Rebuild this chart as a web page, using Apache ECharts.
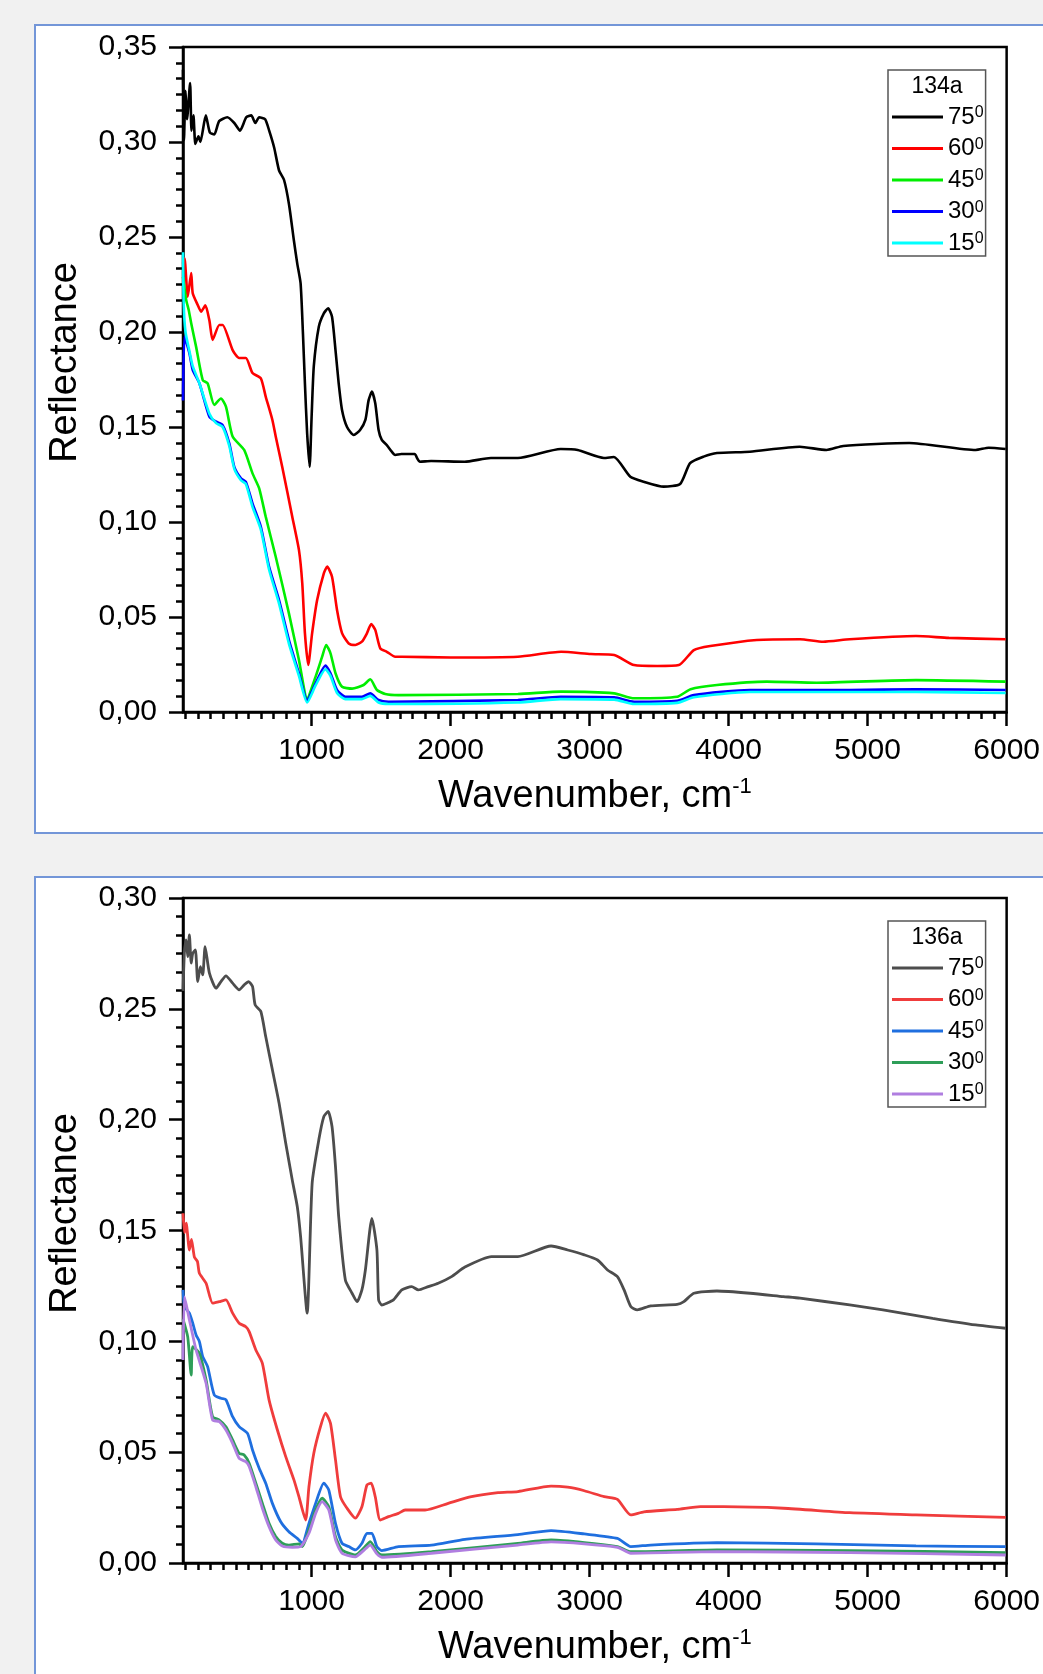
<!DOCTYPE html>
<html>
<head>
<meta charset="utf-8">
<script src="https://cdn.jsdelivr.net/npm/echarts@6/dist/echarts.min.js"></script>
<style>
  html, body { margin:0; padding:0; width:1043px; height:1674px; overflow:hidden; background:#f1f1f1; }
  .panel { position:absolute; left:34px; background:#fff; border:2px solid #7396d8; box-sizing:border-box; }
  #chart { position:absolute; left:0; top:0; width:1043px; height:1674px; }
</style>
</head>
<body>
<div class="panel" style="top:24px; width:1100px; height:810px;"></div>
<div class="panel" style="top:876px; width:1100px; height:900px;"></div>
<div id="chart"></div>
<script>
// ---- tick labels ----
const xTickValues = [1000, 2000, 3000, 4000, 5000, 6000];
const yTicksTop = [0, 0.05, 0.10, 0.15, 0.20, 0.25, 0.30, 0.35];
const yTicksBottom = [0, 0.05, 0.10, 0.15, 0.20, 0.25, 0.30];
const angles = ['75', '60', '45', '30', '15'];

// ---- sample 134a : [wavenumber, reflectance] ----
const s134a_75 = [[75,0.338],[82,0.301],[93,0.327],[104,0.312],[126,0.331],[136,0.306],[150,0.314],[164,0.299],[186,0.303],[200,0.300],[239,0.314],[268,0.305],[300,0.304],[335,0.311],[394,0.313],[444,0.310],[485,0.306],[530,0.313],[566,0.314],[595,0.310],[623,0.313],[666,0.312],[695,0.306],[731,0.297],[766,0.285],[802,0.280],[838,0.267],[873,0.248],[897,0.236],[921,0.2256],[938,0.199],[952,0.173],[968,0.1467],[986,0.129],[1000,0.155],[1016,0.182],[1052,0.2028],[1088,0.2098],[1119,0.2125],[1147,0.208],[1172,0.1905],[1195,0.173],[1219,0.159],[1255,0.150],[1303,0.1458],[1349,0.1484],[1387,0.1537],[1410,0.164],[1434,0.1686],[1458,0.1625],[1482,0.1484],[1505,0.1432],[1541,0.1405],[1577,0.137],[1601,0.1353],[1646,0.1358],[1742,0.1358],[1760,0.1335],[1778,0.1317],[1860,0.1321],[2101,0.1317],[2290,0.1337],[2484,0.1337],[2792,0.1384],[2914,0.1379],[3103,0.1337],[3175,0.1342],[3293,0.1238],[3389,0.1212],[3533,0.1186],[3651,0.120],[3723,0.131],[3820,0.1344],[3916,0.1363],[4153,0.137],[4511,0.1396],[4704,0.1379],[4824,0.140],[5299,0.1416],[5778,0.1379],[5871,0.1391],[5993,0.1384]];
const s134a_60 = [[75,0.236],[86,0.2388],[109,0.2186],[134,0.231],[145,0.2204],[181,0.2142],[205,0.2107],[236,0.214],[265,0.206],[288,0.1958],[336,0.2037],[360,0.2037],[432,0.1905],[479,0.1863],[527,0.1863],[575,0.1784],[635,0.1756],[670,0.166],[718,0.1537],[742,0.145],[789,0.129],[861,0.1028],[909,0.0853],[933,0.0677],[952,0.0415],[976,0.0247],[1004,0.0415],[1040,0.0589],[1088,0.073],[1112,0.0765],[1147,0.0712],[1183,0.0537],[1219,0.0415],[1267,0.0361],[1315,0.0353],[1362,0.037],[1398,0.0414],[1429,0.0463],[1458,0.0432],[1494,0.0335],[1541,0.0317],[1601,0.0291],[1649,0.0291],[2000,0.0287],[2484,0.0291],[2795,0.0317],[3009,0.0305],[3177,0.0300],[3320,0.0247],[3487,0.0242],[3642,0.0247],[3750,0.0326],[3868,0.0347],[4203,0.0379],[4513,0.0383],[4680,0.037],[4871,0.0383],[5348,0.040],[5584,0.039],[5993,0.0383]];
const s134a_45 = [[75,0.229],[98,0.2168],[116,0.2116],[134,0.2046],[169,0.1923],[217,0.1747],[252,0.173],[300,0.1616],[348,0.165],[384,0.1607],[432,0.145],[515,0.1379],[575,0.1256],[623,0.1177],[670,0.1028],[742,0.0817],[837,0.0519],[909,0.0274],[968,0.0072],[1029,0.0186],[1076,0.0291],[1105,0.0353],[1136,0.0309],[1172,0.0204],[1219,0.0133],[1291,0.0123],[1374,0.0142],[1422,0.0172],[1470,0.0116],[1530,0.0095],[1625,0.0089],[2484,0.0095],[2795,0.0107],[3177,0.0098],[3320,0.0072],[3630,0.008],[3726,0.012],[3916,0.0142],[4274,0.016],[4632,0.0154],[5348,0.0168],[5993,0.016]];
const s134a_30 = [[75,0.164],[86,0.1975],[121,0.1888],[145,0.180],[193,0.173],[265,0.1554],[313,0.1528],[360,0.151],[408,0.1414],[444,0.129],[492,0.123],[527,0.1212],[575,0.1098],[635,0.0975],[694,0.0765],[766,0.0589],[837,0.0379],[909,0.0204],[968,0.0063],[1029,0.0151],[1100,0.0245],[1136,0.0204],[1183,0.0116],[1243,0.008],[1362,0.008],[1422,0.0098],[1482,0.0063],[1553,0.0054],[2484,0.0063],[2792,0.008],[3177,0.0077],[3320,0.0054],[3630,0.0059],[3750,0.0089],[4152,0.0116],[4871,0.0116],[5348,0.012],[5993,0.0116]];
const s134a_15 = [[75,0.242],[80,0.215],[93,0.200],[121,0.190],[145,0.182],[193,0.173],[265,0.157],[313,0.152],[360,0.150],[408,0.140],[444,0.128],[492,0.122],[527,0.120],[575,0.108],[635,0.096],[694,0.075],[766,0.057],[837,0.036],[909,0.019],[968,0.005],[1029,0.014],[1100,0.0225],[1136,0.019],[1183,0.010],[1243,0.0068],[1362,0.0068],[1422,0.0085],[1482,0.005],[1553,0.0042],[2484,0.005],[2792,0.0068],[3177,0.0065],[3320,0.0042],[3630,0.0048],[3750,0.0078],[4152,0.0105],[5348,0.0105],[5993,0.0100]];

// ---- sample 136a : [wavenumber, reflectance] ----
const s136a_75 = [[75,0.2581],[86,0.2766],[98,0.2811],[109,0.2736],[121,0.2834],[134,0.2706],[145,0.275],[164,0.2766],[181,0.2623],[200,0.269],[217,0.2653],[234,0.278],[265,0.2661],[313,0.2593],[348,0.2623],[384,0.2649],[432,0.2616],[479,0.2586],[515,0.2608],[547,0.2623],[575,0.2601],[594,0.2518],[635,0.2488],[670,0.2375],[718,0.2225],[766,0.2075],[814,0.1894],[861,0.1728],[897,0.1608],[921,0.1472],[968,0.1127],[1004,0.1713],[1052,0.1909],[1088,0.2014],[1119,0.2037],[1147,0.1969],[1172,0.1788],[1195,0.1563],[1243,0.1277],[1291,0.1217],[1327,0.1179],[1362,0.1232],[1387,0.1322],[1434,0.1555],[1470,0.1412],[1482,0.1187],[1505,0.1164],[1541,0.1172],[1589,0.1187],[1649,0.1232],[1720,0.1247],[1768,0.1232],[1840,0.1247],[1911,0.1262],[2007,0.1292],[2103,0.1335],[2294,0.1382],[2484,0.1382],[2723,0.1430],[2842,0.1412],[2962,0.139],[3057,0.1367],[3129,0.1322],[3200,0.1292],[3248,0.1232],[3296,0.1157],[3343,0.1142],[3439,0.116],[3630,0.1167],[3678,0.1179],[3750,0.1217],[3916,0.1227],[4155,0.1217],[4394,0.1202],[4513,0.1195],[4871,0.1164],[5110,0.1142],[5468,0.1104],[5778,0.1074],[5993,0.1059]];
const s136a_60 = [[75,0.1578],[86,0.149],[98,0.1533],[121,0.1412],[136,0.146],[157,0.138],[179,0.136],[193,0.1307],[241,0.1262],[288,0.1172],[336,0.1179],[384,0.1187],[432,0.1127],[479,0.1082],[527,0.1066],[551,0.1044],[599,0.0961],[646,0.0901],[694,0.0736],[754,0.060],[814,0.048],[873,0.0375],[909,0.0299],[957,0.0194],[981,0.0344],[1016,0.0495],[1064,0.0615],[1100,0.0676],[1136,0.063],[1172,0.0465],[1208,0.0299],[1255,0.0247],[1315,0.0202],[1362,0.0254],[1398,0.0352],[1429,0.036],[1458,0.0299],[1494,0.0194],[1553,0.0209],[1625,0.0224],[1673,0.0239],[1816,0.0239],[1983,0.0269],[2150,0.0299],[2341,0.0317],[2484,0.0322],[2723,0.0347],[2842,0.0342],[2962,0.0326],[3105,0.0299],[3200,0.0287],[3296,0.0217],[3391,0.0231],[3630,0.0242],[3797,0.0254],[3964,0.0254],[4394,0.0247],[4871,0.0227],[5348,0.0217],[5993,0.0206]];
const s136a_45 = [[75,0.1232],[86,0.1157],[121,0.1127],[145,0.1082],[169,0.1029],[193,0.0999],[217,0.0931],[252,0.0886],[300,0.0758],[348,0.0743],[384,0.0736],[432,0.066],[479,0.0615],[539,0.0585],[575,0.051],[623,0.0427],[670,0.036],[718,0.0269],[778,0.0186],[837,0.0141],[897,0.0111],[933,0.0089],[981,0.0179],[1029,0.0269],[1088,0.036],[1124,0.0329],[1172,0.0179],[1219,0.0089],[1267,0.0074],[1315,0.0059],[1362,0.0089],[1398,0.0134],[1434,0.0134],[1470,0.0074],[1505,0.0056],[1625,0.0074],[1863,0.0081],[2103,0.0107],[2484,0.0128],[2723,0.0146],[2962,0.0131],[3200,0.0111],[3296,0.0074],[3439,0.0081],[3916,0.0092],[4632,0.0086],[5348,0.0077],[5993,0.0074]];
const s136a_30 = [[75,0.110],[109,0.102],[134,0.0848],[145,0.0976],[193,0.0946],[241,0.0826],[288,0.066],[336,0.0645],[384,0.0615],[432,0.0555],[479,0.0495],[515,0.0487],[551,0.045],[599,0.036],[646,0.0269],[694,0.0179],[742,0.0119],[789,0.0089],[837,0.0081],[909,0.0086],[933,0.0074],[981,0.0149],[1029,0.0239],[1076,0.0292],[1124,0.0254],[1172,0.0119],[1219,0.0059],[1315,0.0036],[1374,0.0066],[1422,0.0096],[1470,0.0051],[1505,0.0036],[1863,0.0051],[2484,0.0089],[2723,0.0104],[3200,0.0074],[3296,0.0051],[3916,0.0059],[4871,0.0056],[5993,0.0047]];
const s136a_15 = [[75,0.0916],[86,0.120],[121,0.1097],[169,0.0961],[241,0.0811],[288,0.0645],[336,0.0638],[384,0.060],[432,0.054],[479,0.0472],[527,0.0457],[551,0.0435],[599,0.0344],[646,0.0247],[694,0.0164],[742,0.0104],[789,0.0077],[861,0.0071],[921,0.0074],[981,0.0134],[1029,0.0224],[1076,0.0277],[1124,0.0239],[1172,0.0104],[1219,0.0044],[1315,0.0028],[1374,0.0056],[1422,0.0081],[1470,0.0041],[1505,0.0026],[1863,0.0044],[2484,0.0081],[2723,0.0095],[3200,0.0071],[3296,0.0044],[3916,0.0051],[4871,0.0047],[5993,0.0036]];

const colorsTop = ['#000000', '#ff0000', '#00ee00', '#0000ff', '#00ffff'];
const colorsBottom = ['#4d4d4d', '#f03c3c', '#1f6fdf', '#2e9e58', '#b07ee0'];

const FONT = '"Liberation Sans", Arial, Helvetica, sans-serif';
const X_MIN = 75, X_MAX = 6000;

// minor tick positions: 10 minor ticks between majors (11 intervals)
const minorX = [];
for (let k = 1; k * 1000 / 11 < X_MAX; k++) {
  if (k % 11 !== 0) minorX.push(k * 1000 / 11);
}

function xAxes(gi) {
  return [
    {
      gridIndex: gi, type: 'value', position: 'bottom', min: X_MIN, max: X_MAX,
      axisLine: { onZero: false, lineStyle: { color: '#000', width: 2.5 } },
      axisTick: { show: true, length: 14, inside: false, customValues: xTickValues, lineStyle: { color: '#000', width: 2.5 } },
      axisLabel: { show: true, customValues: xTickValues, formatter: v => String(Math.round(v)), fontSize: 30, color: '#000', fontFamily: FONT, margin: 24 },
      splitLine: { show: false },
      name: '{n|Wavenumber, cm}{s|-1}', nameLocation: 'middle', nameGap: 64,
      nameTextStyle: { color: '#000', fontFamily: FONT,
        rich: { n: { fontSize: 38, lineHeight: 42, color: '#000', fontFamily: FONT },
                s: { fontSize: 22, lineHeight: 21, verticalAlign: 'top', color: '#000', fontFamily: FONT } } }
    },
    {
      gridIndex: gi, type: 'value', position: 'bottom', min: X_MIN, max: X_MAX,
      axisLine: { show: false, onZero: false },
      axisTick: { show: true, length: 7, inside: false, customValues: minorX, lineStyle: { color: '#000', width: 2.5 } },
      axisLabel: { show: false },
      splitLine: { show: false }
    }
  ];
}

function yAxis(gi, ticks) {
  return {
    gridIndex: gi, type: 'value', min: ticks[0], max: ticks[ticks.length - 1], interval: 0.05,
    axisLine: { show: true, onZero: false, lineStyle: { color: '#000', width: 2.5 } },
    axisTick: { show: true, length: 14, lineStyle: { color: '#000', width: 2.5 } },
    minorTick: { show: true, splitNumber: 6, length: 7, lineStyle: { color: '#000', width: 2.5 } },
    axisLabel: { formatter: v => v.toFixed(2).replace('.', ','), fontSize: 30, color: '#000', fontFamily: FONT, margin: 26 },
    splitLine: { show: false }, minorSplitLine: { show: false },
    name: 'Reflectance', nameLocation: 'middle', nameGap: 98, nameRotate: 90,
    nameTextStyle: { fontSize: 38, color: '#000', fontFamily: FONT, padding: [0, 0, 0, 34] }
  };
}

const topData = [s134a_75, s134a_60, s134a_45, s134a_30, s134a_15];
const botData = [s136a_75, s136a_60, s136a_45, s136a_30, s136a_15];

const series = [];
angles.forEach((a, i) => {
  series.push({ name: '134a-' + a, type: 'line', xAxisIndex: 0, yAxisIndex: 0, data: topData[i],
    showSymbol: false, symbol: 'none', smooth: 0.2, lineStyle: { color: colorsTop[i], width: 2.6 }, itemStyle: { color: colorsTop[i] }, z: 2 + i });
});
angles.forEach((a, i) => {
  series.push({ name: '136a-' + a, type: 'line', xAxisIndex: 2, yAxisIndex: 1, data: botData[i],
    showSymbol: false, symbol: 'none', smooth: 0.2, lineStyle: { color: colorsBottom[i], width: 2.8 }, itemStyle: { color: colorsBottom[i] }, z: 2 + i });
});

function legend(prefix, top) {
  return {
    orient: 'vertical', left: 888, top: top,
    data: angles.map(a => prefix + '-' + a),
    icon: 'rect', itemWidth: 51, itemHeight: 3, itemGap: 7.5,
    padding: [35, 2, 1, 4],
    borderColor: '#555', borderWidth: 1.5, backgroundColor: '#fff',
    selectedMode: false,
    formatter: name => '{a|' + name.split('-')[1] + '}{s|0}',
    textStyle: { color: '#000', fontFamily: FONT,
      rich: { a: { fontSize: 24, lineHeight: 24, color: '#000', fontFamily: FONT },
              s: { fontSize: 16, lineHeight: 12, verticalAlign: 'top', color: '#000', fontFamily: FONT } } }
  };
}

const chart = echarts.init(document.getElementById('chart'), null, { renderer: 'canvas' });
chart.setOption({
  animation: false,
  backgroundColor: 'transparent',
  grid: [
    { left: 183, top: 47, width: 828, height: 665, show: true, borderColor: '#000', borderWidth: 2.5, backgroundColor: 'transparent' },
    { left: 183, top: 898, width: 828, height: 665, show: true, borderColor: '#000', borderWidth: 2.5, backgroundColor: 'transparent' }
  ],
  xAxis: [...xAxes(0), ...xAxes(1)],
  yAxis: [yAxis(0, yTicksTop), yAxis(1, yTicksBottom)],
  legend: [legend('134a', 70), legend('136a', 921)],
  graphic: [
    { type: 'text', x: 937, y: 87, z: 100, style: { text: '134a', fontSize: 23, fill: '#000', fontFamily: FONT, align: 'center', verticalAlign: 'middle' } },
    { type: 'text', x: 937, y: 938, z: 100, style: { text: '136a', fontSize: 23, fill: '#000', fontFamily: FONT, align: 'center', verticalAlign: 'middle' } }
  ],
  series: series
});
</script>
</body>
</html>
